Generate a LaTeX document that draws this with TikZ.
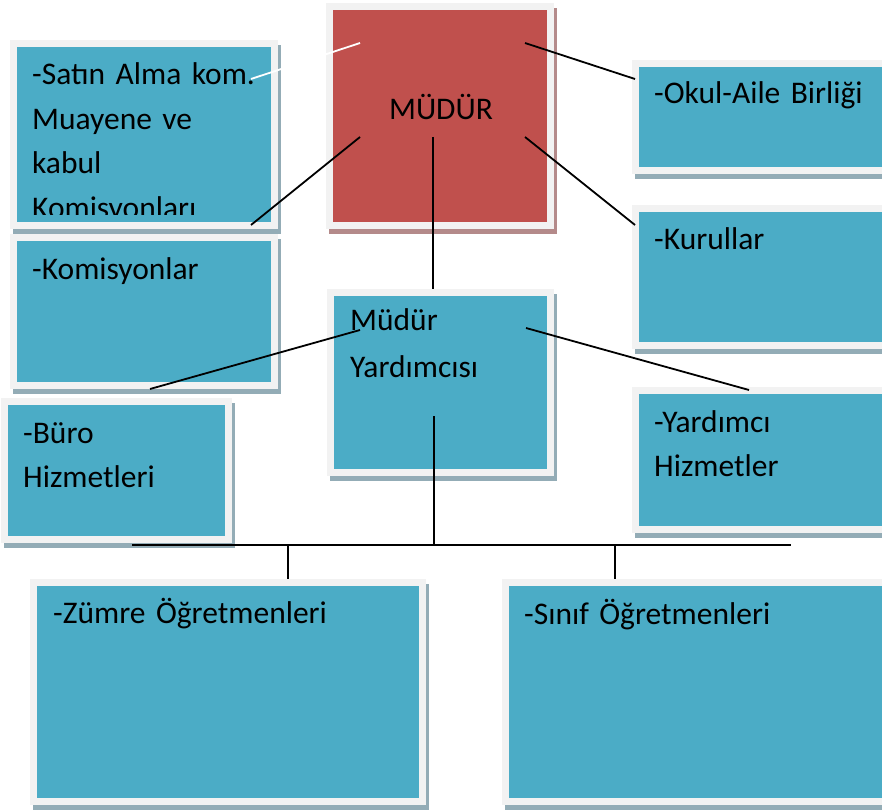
\documentclass[tikz,border=0pt]{standalone}
\usepackage{fontspec}
\setmainfont{Carlito}
\definecolor{mavi}{HTML}{4BACC6}
\definecolor{kirmizi}{HTML}{C0504D}
\definecolor{kenar}{HTML}{F2F2F2}
\definecolor{golgemavi}{HTML}{93ACB6}
\definecolor{golgekirmizi}{HTML}{B48A8A}
\newcommand{\kutuyazisi}{\fontsize{31.5}{44.5}\selectfont\spaceskip=6pt\relax}
\newcommand{\genisyazi}{\fontsize{31.5}{47.5}\selectfont\spaceskip=6pt\relax}

\begin{document}
\begin{tikzpicture}[x=1pt, y=-1pt,
    kutu/.style={rectangle, draw=kenar, line width=7pt, fill=mavi, inner sep=0pt,
        preaction={draw=golgemavi, fill=golgemavi, transform canvas={xshift=2.5pt, yshift=-5pt}}},
    kirmizikutu/.style={rectangle, draw=kenar, line width=7pt, fill=kirmizi, inner sep=0pt,
        preaction={draw=golgekirmizi, fill=golgekirmizi, transform canvas={xshift=2.5pt, yshift=-5pt}}},
    yazi/.style={anchor=base west, inner sep=0pt, text width=#1, align=left, font=\kutuyazisi},
    yazi/.default=240pt,
    baglanti/.style={line width=1.8pt}]
    \useasboundingbox (0,0) rectangle (882,810);

    \node[kutu, minimum width=261pt, minimum height=182pt] (satin) at (144,134.5) {};
    \node[kutu, minimum width=261pt, minimum height=148pt] (komisyon) at (144,311.5) {};
    \node[kirmizikutu, minimum width=221pt, minimum height=219pt] (mudur) at (440,116) {};
    \node[kutu, minimum width=257.5pt, minimum height=107pt] (okul) at (764.25,117) {};
    \node[kutu, minimum width=257.5pt, minimum height=137pt] (kurul) at (764.25,277) {};
    \node[kutu, minimum width=220pt, minimum height=180pt] (yrd) at (440.5,382.5) {};
    \node[kutu, minimum width=224pt, minimum height=138pt] (buro) at (116.5,470.5) {};
    \node[kutu, minimum width=257.5pt, minimum height=139pt] (yhiz) at (764.25,460) {};
    \node[kutu, minimum width=389pt, minimum height=219pt] (zumre) at (228,692) {};
    \node[kutu, minimum width=387.5pt, minimum height=219pt] (sinif) at (699.25,692) {};

    \begin{scope}
        \clip (17,47) rectangle (271,215);
        \node[yazi] (satinyazi) at (32,85) {-Satın Alma kom.\\Muayene ve\\kabul\\Komisyonları};
    \end{scope}
    \node[yazi] (komisyonyazi) at (32,279) {-Komisyonlar};
    \node[anchor=base, inner sep=0pt, font=\kutuyazisi] (muduryazi) at (441,120) {MÜDÜR};
    \node[yazi] (okulyazi) at (654,104) {-Okul-Aile Birliği};
    \node[yazi, font=\genisyazi] (yrdyazi) at (350,330) {Müdür\\Yardımcısı};
    \node[yazi] (kurulyazi) at (654,249) {-Kurullar};
    \node[yazi] (buroyazi) at (23,443) {-Büro\\Hizmetleri};
    \node[yazi] (yhizyazi) at (654,432) {-Yardımcı\\Hizmetler};
    \node[yazi=360pt] (zumreyazi) at (53,623) {-Zümre Öğretmenleri};
    \node[yazi=360pt] (sinifyazi) at (524,624) {-Sınıf Öğretmenleri};

    \coordinate (m1) at (360,43);
    \coordinate (m2) at (360,137);
    \coordinate (m3) at (433,137);
    \coordinate (m4) at (525,43);
    \coordinate (m5) at (525,137);
    \coordinate (s1) at (251,79);
    \coordinate (s2) at (251,225);
    \coordinate (o1) at (635,79);
    \coordinate (k1) at (635,225);
    \coordinate (y1) at (360,330);
    \coordinate (y2) at (526,328);
    \coordinate (y3) at (434,416);
    \coordinate (b1) at (150,389);
    \coordinate (h1) at (749,390);
    \coordinate (bsol) at (132,545);
    \coordinate (bsag) at (791,545);
    \coordinate (bz) at (288,545);
    \coordinate (bs) at (615,545);

    \draw[baglanti, white] (s1) -- (m1);
    \draw[baglanti] (m2) -- (s2);
    \draw[baglanti] (m3) -- (m3 |- yrd.north);
    \draw[baglanti] (m4) -- (o1);
    \draw[baglanti] (m5) -- (k1);
    \draw[baglanti] (y1) -- (b1);
    \draw[baglanti] (y2) -- (h1);
    \draw[baglanti] (y3) -- (y3 |- bsol);
    \draw[baglanti] (bsol) -- (bsag);
    \draw[baglanti] (bz) -- (bz |- zumre.north);
    \draw[baglanti] (bs) -- (bs |- sinif.north);
\end{tikzpicture}
\end{document}
